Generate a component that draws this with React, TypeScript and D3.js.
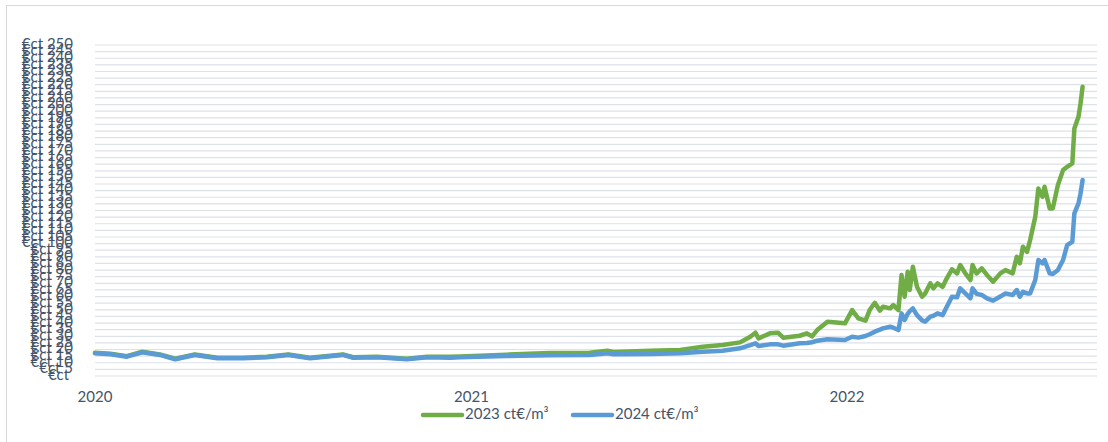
import React from "react";
import * as d3 from "d3";

const dates: string[] = [
  "2020-01-01","2020-01-16","2020-02-01","2020-02-16","2020-03-04","2020-03-19","2020-04-07","2020-04-29",
  "2020-05-24","2020-06-16","2020-07-07","2020-07-28","2020-08-29","2020-09-08","2020-10-01","2020-10-30",
  "2020-11-19","2020-12-11","2020-12-21","2021-02-04","2021-03-18","2021-04-26","2021-05-13","2021-05-19",
  "2021-06-24","2021-07-23","2021-08-14","2021-09-02","2021-09-19","2021-09-29","2021-10-04","2021-10-07",
  "2021-10-18","2021-10-26","2021-10-31","2021-11-16","2021-11-23","2021-11-28","2021-12-03","2021-12-13",
  "2021-12-30","2022-01-06","2022-01-12","2022-01-19","2022-01-23","2022-01-28","2022-02-02","2022-02-05",
  "2022-02-12","2022-02-15","2022-02-20","2022-02-23","2022-02-26","2022-03-01","2022-03-03","2022-03-06",
  "2022-03-10","2022-03-15","2022-03-18","2022-03-23","2022-03-26","2022-03-30","2022-04-04","2022-04-08",
  "2022-04-13","2022-04-18","2022-04-21","2022-04-26","2022-05-01","2022-05-03","2022-05-07","2022-05-12",
  "2022-05-17","2022-05-23","2022-05-30","2022-06-04","2022-06-11","2022-06-15","2022-06-18","2022-06-21",
  "2022-06-25","2022-06-28","2022-07-03","2022-07-06","2022-07-10","2022-07-12","2022-07-17","2022-07-20",
  "2022-07-25","2022-07-30","2022-08-03","2022-08-08","2022-08-10","2022-08-14","2022-08-16","2022-08-18"
];

const series2023: number[] = [
  17.6,16.9,15.0,18.3,16.3,13.0,16.2,13.8,
  13.8,14.5,16.3,13.8,16.2,14.2,14.5,13.0,
  14.5,14.6,14.8,16.1,17.4,17.6,19.1,18.1,
  19.1,19.6,22.1,23.4,25.4,29.7,32.7,28.4,
  32.2,32.7,28.9,30.4,32.2,29.9,34.7,41.0,
  39.8,49.8,43.6,41.8,49.8,55.3,49.3,52.3,
  51.1,53.6,49.8,76.3,59.9,78.7,64.9,82.5,
  67.4,59.9,62.4,70.0,66.2,70.0,67.4,73.8,
  80.6,77.5,83.8,77.5,72.5,83.8,77.5,81.3,
  76.3,71.2,77.5,80.0,77.5,90.1,85.1,97.6,
  93.8,102.7,120.3,141.7,135.4,142.9,126.6,126.6,
  144.2,155.5,158.0,160.6,187.0,195.8,205.9,218.4
];

const series2024: number[] = [
  17.1,16.4,14.6,17.9,15.9,12.6,15.9,13.4,
  13.4,14.1,15.9,13.4,15.9,13.8,14.1,12.6,
  14.1,13.8,14.1,15.1,15.6,15.9,17.1,16.4,
  16.6,17.1,18.4,19.1,20.9,23.4,24.7,22.7,
  23.9,23.9,22.9,24.7,25.0,25.5,26.7,27.7,
  27.2,29.7,29.0,30.2,31.5,33.5,35.0,36.0,
  37.2,36.5,34.7,47.3,42.3,47.0,49.0,51.1,
  46.0,42.0,41.0,44.8,45.5,47.3,46.0,52.3,
  59.9,59.4,66.2,62.4,58.7,66.2,62.0,61.2,
  58.7,56.9,60.0,62.4,61.2,64.9,59.9,63.6,
  62.4,62.4,72.5,87.6,85.1,87.6,77.5,77.0,
  80.0,87.6,98.9,101.4,122.8,130.4,137.9,148.0
];

const seriesNames: string[] = ["2023 ct€/m³", "2024 ct€/m³"];
const seriesColors: string[] = ["#70AD47", "#5B9BD5"];
const yTicks: number[] = d3.range(0, 255, 5);
const xTickLabels: string[] = ["2020", "2021", "2022"];

export default function App() {
  const W = 1108, H = 442;
  const parse = d3.timeParse("%Y-%m-%d");
  const dts = dates.map((d) => parse(d) as Date);
  const x = d3
    .scaleTime()
    .domain([new Date(2020, 0, 1), new Date(2022, 8, 1)])
    .range([95, 1097]);
  const y = d3.scaleLinear().domain([0, 250]).range([376, 45]);
  const line = d3
    .line<number>()
    .x((_, i) => x(dts[i]))
    .y((v) => y(v));
  const font = "Lato, 'Open Sans', sans-serif";
  const textColor = "#44546A";
  const allSeries = [series2023, series2024];

  return (
    <div style={{ position: "fixed", left: 0, top: 0 }}>
      <svg width={W} height={H} style={{ display: "block", background: "#fff" }}>
        <rect x={6.5} y={5.5} width={1120} height={460} fill="#fff" stroke="#d9d9d9" strokeWidth={1} />
        {yTicks.map((t) => (
          <line key={"g" + t} x1={95} x2={1097} y1={y(t)} y2={y(t)} stroke="#dde1e8" strokeWidth={1.2} />
        ))}
        {yTicks.map((t) => (
          <text
            key={"t" + t}
            x={73}
            y={y(t)}
            textAnchor="end"
            dominantBaseline="middle"
            fontFamily={font}
            fontSize={15}
            fill={textColor}
          >
            {t === 0 ? "€ct\u00a0" : `€ct ${t}`}
          </text>
        ))}
        {xTickLabels.map((lbl) => (
          <text
            key={lbl}
            x={x(new Date(+lbl, 0, 1))}
            y={398}
            textAnchor="middle"
            dominantBaseline="middle"
            fontFamily={font}
            fontSize={15}
            fill={textColor}
          >
            {lbl}
          </text>
        ))}
        {allSeries.map((s, i) => (
          <path
            key={"s" + i}
            d={line(s) || ""}
            fill="none"
            stroke={seriesColors[i]}
            strokeWidth={4.5}
            strokeLinejoin="round"
            strokeLinecap="round"
          />
        ))}
        {seriesNames.map((n, i) => {
          const lx = 423 + i * 150;
          return (
            <g key={n}>
              <line x1={lx} x2={lx + 39} y1={415} y2={415} stroke={seriesColors[i]} strokeWidth={4.5} strokeLinecap="round" />
              <text x={lx + 42} y={415} dominantBaseline="middle" fontFamily={font} fontSize={15} fill={textColor}>
                {n}
              </text>
            </g>
          );
        })}
      </svg>
    </div>
  );
}
